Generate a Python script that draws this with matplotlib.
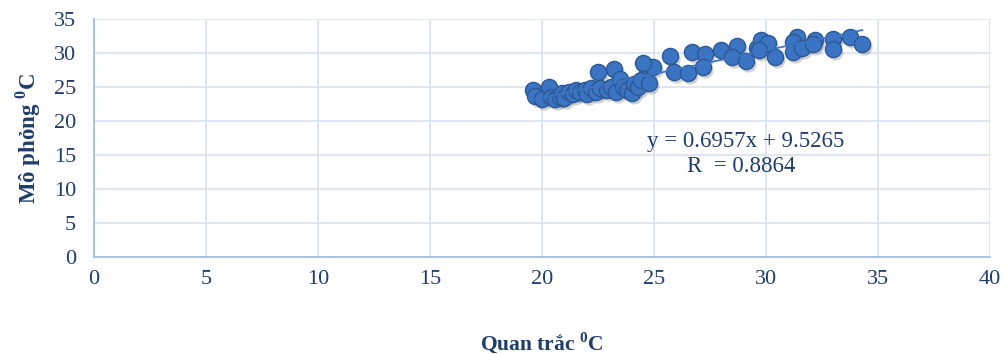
import matplotlib
matplotlib.use("Agg")
import matplotlib.pyplot as plt
import matplotlib.transforms as mtransforms
import numpy as np

obs_x = [19.6, 19.7, 20.0, 20.3, 20.4, 20.6, 20.8, 20.9, 21.0, 21.2, 21.4, 21.5,
         21.7, 21.9, 22.0, 22.2, 22.4, 22.6, 22.5, 22.9, 23.1, 23.2, 23.3, 23.5,
         23.6, 23.8, 24.0, 24.1, 24.3, 24.4, 24.6, 24.8, 24.95, 24.5,
         25.7, 25.9, 26.5, 26.7, 27.3, 27.2, 28.0, 28.7, 28.5, 29.1, 29.6,
         29.8, 30.1, 29.7, 30.4, 31.4, 31.2, 31.2, 31.6, 32.2, 32.1, 33.0, 33.0,
         33.75, 34.3]
sim_y = [24.6, 23.7, 23.3, 25.0, 23.5, 23.2, 23.6, 24.2, 23.4, 24.3, 24.0, 24.5,
         24.3, 24.6, 24.0, 24.8, 24.3, 24.9, 27.2, 24.5, 25.0, 27.6, 24.3, 26.2,
         25.0, 24.6, 24.2, 25.5, 25.0, 26.0, 28.3, 25.6, 27.9, 28.5,
         29.6, 27.2, 27.0, 30.1, 29.9, 28.0, 30.4, 31.0, 29.4, 28.8, 30.7,
         31.9, 31.5, 30.4, 29.4, 32.4, 31.6, 30.1, 30.7, 31.9, 31.3, 32.1, 30.6,
         32.4, 31.3]

slope = 0.6957
intercept = 9.5265
r_text = "R  = 0.8864"

x_ticks = [0, 5, 10, 15, 20, 25, 30, 35, 40]
y_ticks = [0, 5, 10, 15, 20, 25, 30, 35]

plt.rcParams['font.family'] = ['Liberation Serif', 'DejaVu Serif']
plt.rcParams['mathtext.fontset'] = 'custom'
plt.rcParams['mathtext.rm'] = 'Liberation Serif'
plt.rcParams['mathtext.bf'] = 'Liberation Serif:bold'

navy = '#1f3d6b'
fig = plt.figure(figsize=(10.05, 3.54), dpi=100)
ax = fig.add_axes([0.0935, 0.274, 0.8915, 0.672])

ax.set_xlim(0, 40)
ax.set_ylim(0, 35)
ax.set_xticks(x_ticks)
ax.set_yticks(y_ticks)
ax.grid(True, color='#d6e2f3', linewidth=1.2)
ax.set_axisbelow(True)
for s in ['top', 'right']:
    ax.spines[s].set_visible(False)
for s in ['left', 'bottom']:
    ax.spines[s].set_color('#9dbbe0')
    ax.spines[s].set_linewidth(1.2)
ax.tick_params(length=0, labelsize=16, labelcolor=navy)
ax.tick_params(axis='y', pad=13)
ax.tick_params(axis='x', pad=9)

# shadow
shadow = mtransforms.offset_copy(ax.transData, fig=fig, x=2, y=-3, units='dots')
ax.scatter(obs_x, sim_y, s=135, color='#000000', alpha=0.18, linewidths=0,
           transform=shadow, zorder=2)
ax.scatter(obs_x, sim_y, s=135, facecolor='#3b74c2', edgecolor='#2b5896',
           linewidths=1.0, zorder=3)

xl = np.array([min(obs_x), max(obs_x)])
ax.plot(xl, slope * xl + intercept, color='#3b74c2', linewidth=1.3, zorder=4)

ax.text(29.1, 17.0, f"y = {slope}x + {intercept}", ha='center', va='center',
        fontsize=16.5, color=navy)
ax.text(28.9, 13.3, r_text, ha='center', va='center', fontsize=16.5, color=navy)

ax.set_xlabel(r'Quan trắc $^{\mathbf{0}}$C', fontsize=15.5, fontweight='bold',
              color=navy, labelpad=30)
ax.set_ylabel(r'Mô phỏng $^{\mathbf{0}}$C', fontsize=16.5, fontweight='bold',
              color=navy, labelpad=8)

fig.savefig('out.png', dpi=100)
